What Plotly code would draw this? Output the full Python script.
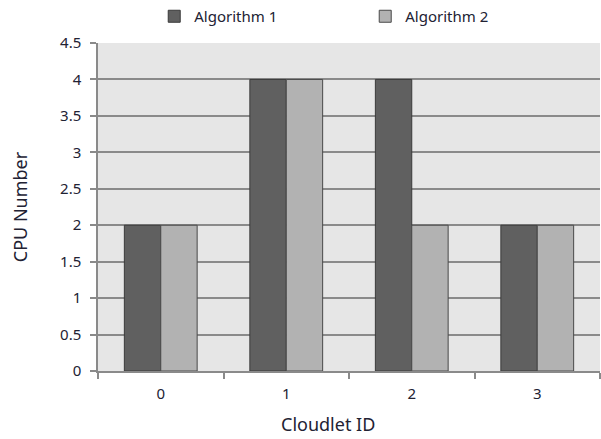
import plotly.graph_objects as go

cloudlets = ["0", "1", "2", "3"]
algorithm_1 = [2, 4, 4, 2]
algorithm_2 = [2, 4, 2, 2]
y_ticks = [0, 0.5, 1, 1.5, 2, 2.5, 3, 3.5, 4, 4.5]
y_tick_text = ["0", "0.5", "1", "1.5", "2", "2.5", "3", "3.5", "4", "4.5"]

FONT = "Noto Sans"
TEXT = "#222233"
GRID = "#8a8a8a"

fig = go.Figure()
fig.add_trace(go.Bar(
    x=cloudlets, y=algorithm_1, name="Algorithm 1",
    marker=dict(color="#606060", line=dict(color="#3a3a3a", width=1)),
))
fig.add_trace(go.Bar(
    x=cloudlets, y=algorithm_2, name="Algorithm 2",
    marker=dict(color="#b2b2b2", line=dict(color="#4a4a4a", width=1)),
))

fig.update_layout(
    width=601, height=439,
    margin=dict(l=98, r=1, t=43, b=68, autoexpand=False),
    paper_bgcolor="white",
    plot_bgcolor="#e6e6e6",
    barmode="group",
    bargap=0.42,
    bargroupgap=0,
    font=dict(family=FONT, size=15, color=TEXT),
    legend=dict(
        orientation="h",
        x=0.112, xanchor="left",
        y=1.0, yref="container", yanchor="top",
        font=dict(family=FONT, size=15, color=TEXT),
        entrywidth=166, entrywidthmode="pixels",
        itemwidth=30,
        bgcolor="rgba(0,0,0,0)",
    ),
    showlegend=True,
    # x-axis title placed slightly left of the plot centre
    annotations=[dict(
        text="Cloudlet ID", xref="paper", yref="paper",
        x=0.458, y=-0.163, xanchor="center", yanchor="middle",
        showarrow=False, font=dict(family=FONT, size=18, color=TEXT),
        borderpad=0,
    )],
)

fig.update_xaxes(
    type="category",
    showgrid=False,
    showline=True, linecolor=GRID, linewidth=1.5,
    ticks="outside", tickson="boundaries", ticklen=6, tickcolor=GRID, tickwidth=1.5,
    ticklabelstandoff=8,
    tickfont=dict(family=FONT, size=15, color=TEXT),
)
fig.update_yaxes(
    range=[0, 4.5],
    tickvals=y_ticks, ticktext=y_tick_text,
    showgrid=True, gridcolor=GRID, gridwidth=1.5,
    showline=True, linecolor=GRID, linewidth=1.5,
    ticks="outside", ticklen=6, tickcolor=GRID, tickwidth=1.5,
    ticklabelstandoff=6,
    tickfont=dict(family=FONT, size=15, color=TEXT),
    title=dict(text="CPU Number", font=dict(family=FONT, size=18, color=TEXT), standoff=28),
    zeroline=False,
)

fig.write_html("out.html")
